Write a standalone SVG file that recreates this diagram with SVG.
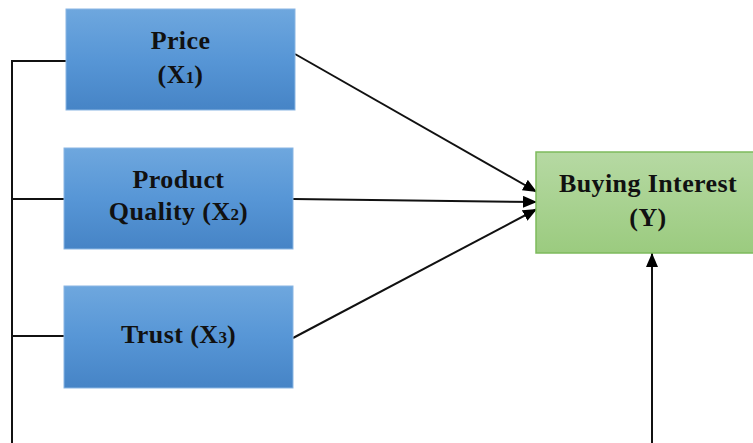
<svg xmlns="http://www.w3.org/2000/svg" width="753" height="443" viewBox="0 0 753 443">
<defs>
<linearGradient id="blue" x1="0" y1="0" x2="0" y2="1">
<stop offset="0" stop-color="#6ea7de"/>
<stop offset="0.5" stop-color="#5796d6"/>
<stop offset="1" stop-color="#4684c6"/>
</linearGradient>
<linearGradient id="green" x1="0" y1="0" x2="0" y2="1">
<stop offset="0" stop-color="#b6d9a3"/>
<stop offset="1" stop-color="#9bcb7f"/>
</linearGradient>
<marker id="arr" viewBox="0 0 14 12" refX="14" refY="6" markerWidth="14" markerHeight="12" markerUnits="userSpaceOnUse" orient="auto">
<path d="M0,0 L14,6 L0,12 Z" fill="#000"/>
</marker>
</defs>
<style>
.box{fill:url(#blue);stroke:#8ab6e3;stroke-width:1}
.gbox{fill:url(#green);stroke:#7dba5c;stroke-width:1.5}
.t{font-family:"Liberation Serif","Times New Roman",serif;font-weight:bold;font-size:26px;letter-spacing:0.4px;fill:#111;text-anchor:middle}
.sub{font-size:17px;letter-spacing:0}
.ln{stroke:#111;stroke-width:2;fill:none}
</style>
<rect width="753" height="443" fill="#fff"/>
<g id="connectors">
<path class="ln" d="M66,61 H12 V443"/>
<path class="ln" d="M64,199 H12"/>
<path class="ln" d="M64,336 H12"/>
<line class="ln" x1="295" y1="54" x2="537" y2="192" marker-end="url(#arr)"/>
<line class="ln" x1="293" y1="199" x2="537" y2="202" marker-end="url(#arr)"/>
<line class="ln" x1="293" y1="338" x2="537" y2="209" marker-end="url(#arr)"/>
<line class="ln" x1="652" y1="443" x2="652" y2="253" marker-end="url(#arr)"/>
</g>
<g id="price">
<rect class="box" x="66" y="9" width="229" height="101"/>
<text class="t" x="180.5" y="49">Price</text>
<text class="t" x="180.5" y="83">(X<tspan class="sub">1</tspan>)</text>
</g>
<g id="quality">
<rect class="box" x="64" y="148" width="229" height="101"/>
<text class="t" x="178.5" y="188">Product</text>
<text class="t" x="178.5" y="220">Quality (X<tspan class="sub">2</tspan>)</text>
</g>
<g id="trust">
<rect class="box" x="64" y="286" width="229" height="102"/>
<text class="t" x="178.5" y="343">Trust (X<tspan class="sub">3</tspan>)</text>
</g>
<g id="buying">
<rect class="gbox" x="536" y="152" width="224" height="101"/>
<text class="t" x="648" y="192">Buying Interest</text>
<text class="t" x="648" y="226">(Y)</text>
</g>
</svg>
